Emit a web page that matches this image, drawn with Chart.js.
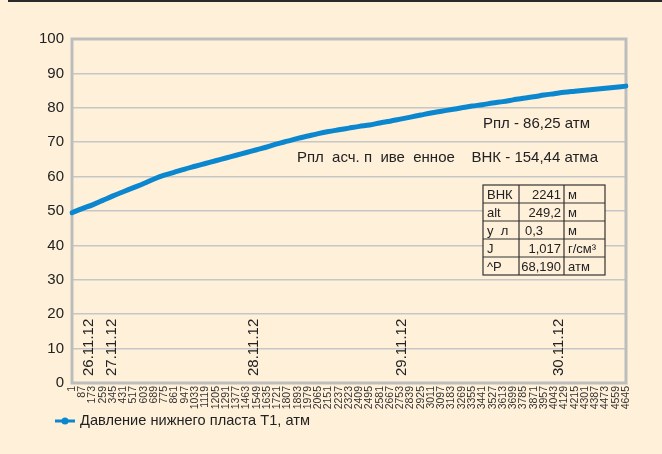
<!DOCTYPE html>
<html><head><meta charset="utf-8">
<script src="https://cdn.jsdelivr.net/npm/chart.js@4"></script>
<style>html,body{margin:0;padding:0;background:#fff0da;} canvas{display:block}</style>
</head><body>
<canvas id="c" width="662" height="454"></canvas>
<script>
const sampleLabels = [1, 87, 173, 259, 345, 431, 517, 603, 689, 775, 861, 947, 1033, 1119, 1205, 1291, 1377, 1463, 1549, 1635, 1721, 1807, 1893, 1979, 2065, 2151, 2237, 2323, 2409, 2495, 2581, 2667, 2753, 2839, 2925, 3011, 3097, 3183, 3269, 3355, 3441, 3527, 3613, 3699, 3785, 3871, 3957, 4043, 4129, 4215, 4301, 4387, 4473, 4559, 4645];
const pressure = [49.5, 50.7, 51.8, 53.1, 54.4, 55.6, 56.8, 58.0, 59.3, 60.4,
  61.3, 62.2, 63.0, 63.8, 64.6, 65.4, 66.2, 67.0, 67.8, 68.6,
  69.5, 70.3, 71.1, 71.8, 72.5, 73.1, 73.6, 74.1, 74.6, 75.0,
  75.6, 76.1, 76.7, 77.3, 77.9, 78.5, 79.0, 79.5, 80.0, 80.5,
  80.9, 81.4, 81.8, 82.3, 82.8, 83.2, 83.7, 84.1, 84.5, 84.8,
  85.1, 85.4, 85.7, 86.0, 86.3];
const seriesName = 'Давление нижнего пласта Т1, атм';
const yTicks = [0, 10, 20, 30, 40, 50, 60, 70, 80, 90, 100];
const dateLabels = ['26.11.12', '27.11.12', '28.11.12', '29.11.12', '30.11.12'];
const dateSamples = [144, 334, 1529, 2770, 4078];
const noteLines = ['Рпл - 86,25 атм', 'Рпл  асч. п  иве  енное    ВНК - 154,44 атма'];
const tableRows = [['ВНК', '2241', 'м'], ['alt', '249,2', 'м'], ['у  л', '0,3', 'м'], ['J', '1,017', 'г/см³'], ['^P', '68,190', 'атм']];

const FONT = '"Liberation Sans", Arial, sans-serif';
const BLUE = '#0a87cf';
const TXT = '#222222';

const decor = {
  id: 'decor',
  beforeDraw(chart) {
    const ctx = chart.ctx;
    ctx.save();
    ctx.fillStyle = '#fff0da';
    ctx.fillRect(0, 0, chart.width, chart.height);
    ctx.fillStyle = '#2a2a2a';
    ctx.fillRect(8, 0, chart.width - 8, 2);
    ctx.restore();
  },
  beforeDatasetsDraw(chart) {
    const ctx = chart.ctx, a = chart.chartArea, xs = chart.scales.x;
    ctx.save();
    ctx.strokeStyle = '#bdbdbd';
    ctx.lineWidth = 3;
    ctx.strokeRect(a.left, a.top, a.right - a.left, a.bottom - a.top);
    const p0 = xs.getPixelForValue(0), p1 = xs.getPixelForValue(sampleLabels.length - 1);
    const s0 = sampleLabels[0], s1 = sampleLabels[sampleLabels.length - 1];
    ctx.fillStyle = TXT;
    ctx.font = '15px ' + FONT;
    ctx.textAlign = 'left';
    ctx.textBaseline = 'middle';
    dateLabels.forEach((t, i) => {
      const x = p0 + (dateSamples[i] - s0) / (s1 - s0) * (p1 - p0);
      ctx.save();
      ctx.translate(x, a.bottom - 7);
      ctx.rotate(-Math.PI / 2);
      ctx.fillText(t, 0, 0);
      ctx.restore();
    });
    ctx.restore();
  },
  afterDatasetsDraw(chart) {
    const ctx = chart.ctx, a = chart.chartArea;
    ctx.save();
    ctx.fillStyle = TXT;
    ctx.font = '15px ' + FONT;
    ctx.textBaseline = 'middle';
    ctx.textAlign = 'right';
    ctx.fillText(noteLines[0], a.right - 36, 124);
    ctx.fillText(noteLines[1], a.right - 28, 158);
    const tx = 483, ty = 185, cw = [36, 45, 41], rh = 18;
    const tw = cw[0] + cw[1] + cw[2], th = rh * tableRows.length;
    ctx.fillStyle = '#fff0da';
    ctx.fillRect(tx, ty, tw, th);
    ctx.strokeStyle = '#333333';
    ctx.lineWidth = 1.2;
    ctx.strokeRect(tx, ty, tw, th);
    ctx.beginPath();
    for (let r = 1; r < tableRows.length; r++) { ctx.moveTo(tx, ty + r * rh); ctx.lineTo(tx + tw, ty + r * rh); }
    ctx.moveTo(tx + cw[0], ty); ctx.lineTo(tx + cw[0], ty + th);
    ctx.moveTo(tx + cw[0] + cw[1], ty); ctx.lineTo(tx + cw[0] + cw[1], ty + th);
    ctx.stroke();
    ctx.fillStyle = TXT;
    ctx.font = '13px ' + FONT;
    tableRows.forEach((row, r) => {
      const cy = ty + r * rh + rh / 2 + 1;
      ctx.textAlign = 'left';
      ctx.fillText(row[0], tx + 4, cy);
      if (row[1] === '0,3') { ctx.textAlign = 'left'; ctx.fillText(row[1], tx + cw[0] + 6, cy); }
      else { ctx.textAlign = 'right'; ctx.fillText(row[1], tx + cw[0] + cw[1] - 3, cy); }
      ctx.textAlign = 'left';
      ctx.fillText(row[2], tx + cw[0] + cw[1] + 4, cy);
    });
    const ly = 421;
    ctx.strokeStyle = BLUE;
    ctx.lineWidth = 3;
    ctx.beginPath(); ctx.moveTo(55, ly); ctx.lineTo(75, ly); ctx.stroke();
    ctx.fillStyle = BLUE;
    ctx.beginPath(); ctx.arc(65, ly, 3.5, 0, Math.PI * 2); ctx.fill();
    ctx.fillStyle = TXT;
    ctx.font = '14.6px ' + FONT;
    ctx.textAlign = 'left';
    ctx.fillText(chart.data.datasets[0].label, 80, ly);
    ctx.restore();
  }
};

new Chart(document.getElementById('c'), {
  type: 'line',
  data: {
    labels: sampleLabels.map(String),
    datasets: [{
      label: seriesName,
      data: pressure,
      borderColor: BLUE,
      backgroundColor: BLUE,
      borderWidth: 5,
      pointRadius: 0,
      tension: 0.3,
      borderCapStyle: 'round',
      fill: false
    }]
  },
  options: {
    responsive: false,
    animation: false,
    devicePixelRatio: 1,
    layout: { padding: { top: 39, right: 36, left: 0, bottom: 0 } },
    plugins: { legend: { display: false }, tooltip: { enabled: false } },
    scales: {
      x: {
        type: 'category',
        grid: { display: false, drawTicks: false },
        border: { display: false },
        ticks: { autoSkip: false, maxRotation: 90, minRotation: 90, padding: 3, color: '#333', font: { family: FONT, size: 10.5 } },
        afterFit(s) { s.height = 71; }
      },
      y: {
        min: 0, max: 100,
        afterBuildTicks(s) { s.ticks = yTicks.map(v => ({ value: v })); },
        grid: { color: '#c6c6c6', lineWidth: 1.5, drawTicks: false },
        border: { display: false },
        ticks: { padding: 8, color: TXT, font: { family: FONT, size: 15 } },
        afterFit(s) { s.width = 72; }
      }
    }
  },
  plugins: [decor]
});
</script>
</body></html>
